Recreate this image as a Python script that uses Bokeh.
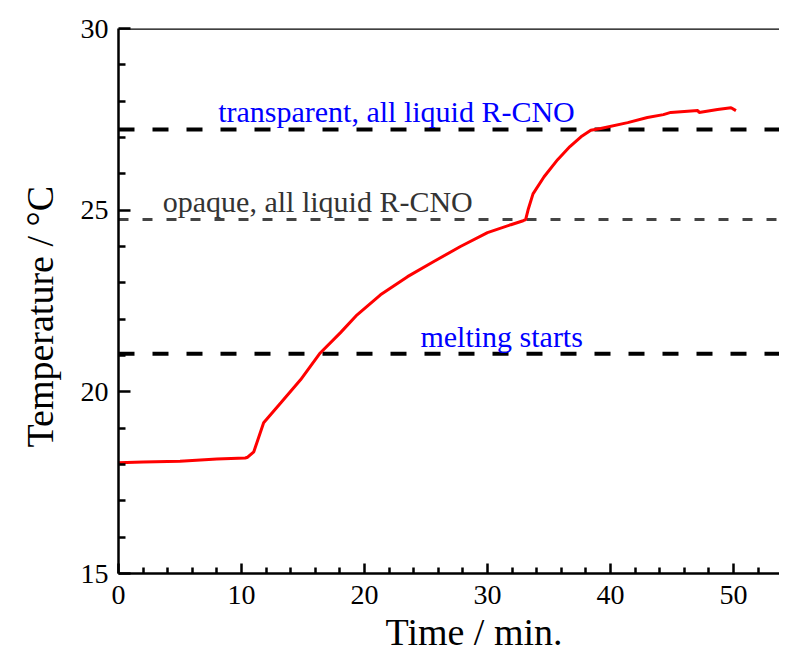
from bokeh.plotting import figure
from bokeh.models import FixedTicker, Range1d, Span, Title
from bokeh.core.properties import value
from bokeh.embed import file_html
from bokeh.resources import INLINE

# data
time_min = [0, 2, 5, 8, 10.3, 10.5, 11.0, 11.8, 13.2, 14.8, 16.4, 18.05, 19.4, 21.3, 23.5,
            25.6, 27.8, 30.0, 31.9, 32.9, 33.1, 33.3, 33.7, 34.6, 35.7, 36.7, 37.6, 38.4,
            39.2, 41.4, 43.0, 44.3, 44.9, 47.1, 47.2, 48.7, 49.8, 50.2]
temp_c = [18.05, 18.07, 18.09, 18.15, 18.18, 18.2, 18.35, 19.15, 19.7, 20.33, 21.07, 21.63,
          22.12, 22.67, 23.17, 23.58, 24.0, 24.38, 24.6, 24.71, 24.74, 25.01, 25.45, 25.92,
          26.39, 26.75, 27.02, 27.2, 27.25, 27.41, 27.55, 27.63, 27.69, 27.74, 27.69, 27.77,
          27.82, 27.74]
level_transparent = 27.22
level_opaque = 24.74
level_melting = 21.05
label_texts = ["transparent, all liquid R-CNO", "opaque, all liquid R-CNO", "melting starts"]
label_x = [22.6, 16.2, 31.15]
label_y = [27.72, 25.24, 21.52]
label_colors = ["#0000ff", "#333333", "#0000ff"]
x_major = [0, 10, 20, 30, 40, 50]
x_minor = [2, 4, 6, 8, 12, 14, 16, 18, 22, 24, 26, 28, 32, 34, 36, 38, 42, 44, 46, 48, 52]
y_major = [15, 20, 25, 30]
y_minor = [16, 17, 18, 19, 21, 22, 23, 24, 26, 27, 28, 29]
x_title = "Time / min."
y_title = "Temperature / °C"

FONT = "Liberation Serif"
X_END = 53.74

p = figure(width=779, height=658, output_backend="svg", toolbar_location=None,
           x_range=Range1d(0, X_END), y_range=Range1d(15, 30),
           min_border_left=118, min_border_right=0, min_border_top=28, min_border_bottom=85)
p.outline_line_color = None
p.grid.visible = False
p.background_fill_color = "white"
p.border_fill_color = "white"

# reference lines
p.line([0, X_END], [level_transparent] * 2, line_color="black", line_width=4, line_dash="16 18")
p.line([0, X_END], [level_opaque] * 2, line_color="#444444", line_width=3, line_dash="10 14")
p.line([0, X_END], [level_melting] * 2, line_color="black", line_width=4, line_dash="16 18")

p.line(time_min, temp_c, line_color="#ff0000", line_width=3)

p.text(x=label_x, y=label_y, text=label_texts, text_color=label_colors,
       text_font=value(FONT), text_font_size="30px", text_align="center",
       text_baseline="alphabetic")

# top border
p.add_layout(Span(location=30, dimension="width", line_color="black", line_width=2.5))

for ax in (p.xaxis[0], p.yaxis[0]):
    ax.axis_line_width = 2.5
    ax.major_tick_line_width = 2.5
    ax.minor_tick_line_width = 2.5
    ax.major_tick_out = 0
    ax.minor_tick_out = 0
    ax.major_label_text_font = FONT
    ax.major_label_text_font_size = "28px"
    ax.major_label_text_color = "black"

p.xaxis.ticker = FixedTicker(ticks=x_major, minor_ticks=x_minor)
p.yaxis.ticker = FixedTicker(ticks=y_major, minor_ticks=y_minor)
p.xaxis.major_label_standoff = 12
p.yaxis.major_label_standoff = 10
p.xaxis.major_tick_in = 10
p.xaxis.minor_tick_in = 6
p.yaxis.major_tick_in = 12
p.yaxis.minor_tick_in = 7

# axis titles as side titles (offset as in the original, wider figure)
p.add_layout(Title(text=x_title, text_font=FONT, text_font_size="38px",
                   text_font_style="normal", text_color="black",
                   align="left", offset=267, standoff=4), "below")
p.add_layout(Title(text=y_title, text_font=FONT, text_font_size="38px",
                   text_font_style="normal", text_color="black",
                   align="left", offset=126, standoff=30, vertical_align="top"), "left")

open("out.html", "w").write(file_html(p, INLINE))
